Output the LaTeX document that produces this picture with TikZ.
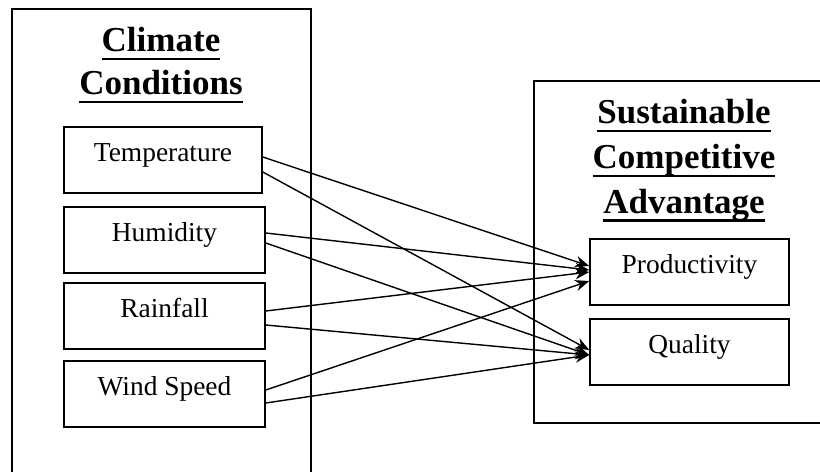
\documentclass[tikz,border=0pt]{standalone}
\usepackage{fontspec}
\setmainfont{Liberation Serif}
\usetikzlibrary{arrows.meta}

\newcommand{\ulword}[1]{\setbox0\hbox{#1}\rlap{\rule[-6.3pt]{\wd0}{1.9pt}}#1}

\begin{document}
\begin{tikzpicture}[
  itembox/.style={draw, line width=1.1pt, inner sep=0pt, text height=0.86cm, text depth=0.79cm,
    font=\fontsize{19.5pt}{23pt}\selectfont},
  headtext/.style={align=center, inner sep=0pt, anchor=north,
    font=\fontsize{24.9pt}{30.6pt}\selectfont\bfseries},
  link/.style={line width=1pt, -{Stealth[length=10pt,width=8pt]}}
]
  \useasboundingbox (0cm,0cm) rectangle (20.5cm,11.775cm);

  \draw[line width=1.1pt] (0.3cm,-0.1cm) -- (0.3cm,11.55cm) -- (7.775cm,11.55cm) -- (7.775cm,-0.1cm);  %linker Rahmen
  \draw[line width=1.1pt] (20.6cm,9.75cm) -- (13.35cm,9.75cm) -- (13.35cm,1.2cm) -- (20.6cm,1.2cm);  %rechter Rahmen

  \node[headtext] (climate) at (4.025cm,11.1cm) {\ulword{Climate}\\\ulword{Conditions}};  %Überschrift links
  \node[headtext, font=\fontsize{24.9pt}{31.9pt}\selectfont\bfseries] (sca) at (17.1cm,9.3cm)
    {\ulword{Sustainable}\\\ulword{Competitive}\\\ulword{Advantage}};  %Überschrift rechts

  \node[itembox, minimum width=4.95cm] (temp) at (4.075cm,7.775cm) {Temperature};
  \node[itembox, minimum width=5.025cm] (hum) at (4.1125cm,5.775cm) {Humidity};
  \node[itembox, minimum width=5.025cm] (rain) at (4.1125cm,3.875cm) {Rainfall};
  \node[itembox, minimum width=5.025cm] (wind) at (4.1125cm,1.925cm) {Wind Speed};

  \node[itembox, minimum width=4.975cm] (prod) at (17.2375cm,4.975cm) {Productivity};
  \node[itembox, minimum width=4.975cm] (qual) at (17.2375cm,2.975cm) {Quality};

  \foreach \src/\sy/\dst/\dy in {temp/0.075/prod/0.15, temp/-0.3/qual/0.05,  %\sy, \dy sind Versatz an den Kanten
                                 hum/0.175/prod/0.05, hum/-0.075/qual/-0.075,
                                 rain/0.125/prod/0, rain/-0.225/qual/-0.075,
                                 wind/0.1/prod/-0.225, wind/-0.225/qual/-0.075}
    \draw[link] ([yshift=\sy cm]\src.east) -- ([yshift=\dy cm]\dst.west);  %Pfeile
\end{tikzpicture}
\end{document}
